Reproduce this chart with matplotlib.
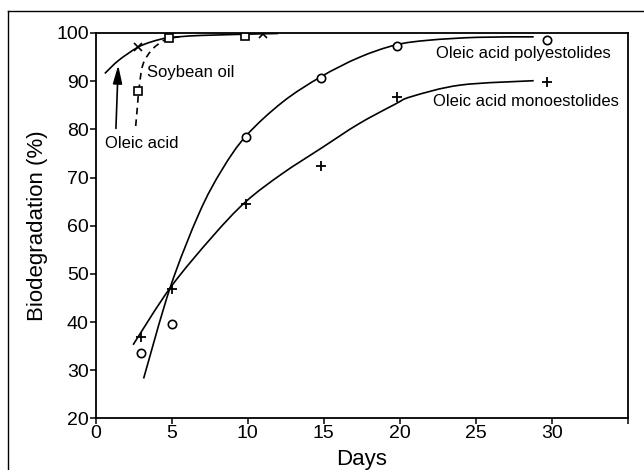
import numpy as np
import matplotlib
matplotlib.use('Agg')
import matplotlib.pyplot as plt
from matplotlib.lines import Line2D
from matplotlib.path import Path
from matplotlib.patches import PathPatch

plt.rcParams['font.family'] = ['Liberation Sans', 'DejaVu Sans']

# 数据点
oleic_days = [2.75, 4.8, 9.8, 11]
oleic_vals = [97.0, 99.3, 99.8, 99.7]
soy_days = [2.8, 4.8, 9.8]
soy_vals = [88.0, 99.0, 99.3]
est_days = [3, 5, 9.9, 14.8, 19.8, 29.7]
poly_vals = [33.5, 39.6, 78.4, 90.7, 97.4, 98.5]
mono_vals = [37.0, 46.8, 64.6, 72.5, 86.7, 89.8]

# 拟合曲线
oleic_fit_x = [0.6, 1.5, 2.75, 3.7, 4.8, 7.0, 12.0]
oleic_fit_y = [91.6, 94.3, 97.0, 98.2, 99.0, 99.5, 99.9]
soy_fit_x = [2.63, 2.75, 2.85, 3.1, 3.66, 4.3, 4.75, 5.5]
soy_fit_y = [80.7, 85.0, 88.5, 93.4, 96.4, 98.1, 98.8, 99.2]
poly_fit_x = [3.15, 4.9, 6.8, 8.3, 9.9, 12.3, 14.8, 17.3, 19.7, 21.9, 25.1, 28.8]
poly_fit_y = [28.3, 47.2, 62.6, 71.6, 78.7, 85.7, 90.9, 94.9, 97.5, 98.5, 99.1, 99.2]
mono_fit_x = [2.46, 4.92, 7.69, 9.87, 12.26, 14.88, 17.27, 19.67, 20.76, 24.0, 28.8]
mono_fit_y = [35.3, 47.2, 57.8, 65.0, 70.8, 76.2, 81.1, 85.2, 86.8, 89.2, 90.1]

x_ticks = [0, 5, 10, 15, 20, 25, 30, 35]
x_tick_labels = ['0', '5', '10', '15', '20', '25', '30', '']
y_ticks = [20, 30, 40, 50, 60, 70, 80, 90, 100]


def smooth_curve(ax, xs, ys, **kw):
    """用贝塞尔曲线平滑连接读取的点 (Catmull-Rom)"""
    p = np.column_stack([xs, ys]).astype(float)
    pts = np.vstack([p[0], p, p[-1]])
    verts = [p[0]]
    codes = [Path.MOVETO]
    for i in range(1, len(pts) - 2):
        c1 = pts[i] + (pts[i + 1] - pts[i - 1]) / 6
        c2 = pts[i + 1] - (pts[i + 2] - pts[i]) / 6
        verts += [c1, c2, pts[i + 1]]
        codes += [Path.CURVE4] * 3
    patch = PathPatch(Path(verts, codes), fill=False, **kw)
    ax.add_patch(patch)


fig = plt.figure(figsize=(6.44, 4.70), dpi=100)
ax = fig.add_axes([0.1486, 0.1096, 0.8266, 0.8202])

lw = 1.2
smooth_curve(ax, oleic_fit_x, oleic_fit_y, color='black', lw=lw)
smooth_curve(ax, soy_fit_x, soy_fit_y, color='black', lw=lw, linestyle=(0, (4, 3)))
smooth_curve(ax, poly_fit_x, poly_fit_y, color='black', lw=lw)
smooth_curve(ax, mono_fit_x, mono_fit_y, color='black', lw=lw)

ax.plot(oleic_days, oleic_vals, 'x', color='black', ms=6, mew=1.2)
ax.plot(soy_days, soy_vals, 's', mfc='white', mec='black', ms=6, mew=1.2)
ax.plot(est_days, poly_vals, 'o', mfc='white', mec='black', ms=6, mew=1.2)
ax.plot(est_days, mono_vals, '+', color='black', ms=7, mew=1.3)

ax.annotate('', xy=(1.48, 93.3), xytext=(1.33, 80.2),
            arrowprops=dict(arrowstyle='-|>,head_length=1.1,head_width=0.28',
                            color='black', lw=1.2, mutation_scale=10,
                            shrinkA=0, shrinkB=0))

fs_ann = 12
ax.text(0.6, 77.1, 'Oleic acid', fontsize=fs_ann, ha='left', va='center')
ax.text(3.4, 91.9, 'Soybean oil', fontsize=fs_ann, ha='left', va='center')
ax.text(22.4, 95.8, 'Oleic acid polyestolides', fontsize=fs_ann, ha='left', va='center')
ax.text(22.2, 85.8, 'Oleic acid monoestolides', fontsize=fs_ann, ha='left', va='center')

ax.set_xlim(0, 35)
ax.set_ylim(20, 100)
ax.set_xticks(x_ticks)
ax.set_xticklabels(x_tick_labels)
ax.set_yticks(y_ticks)
ax.tick_params(direction='out', length=4, width=1.1, labelsize=14, pad=1, colors='black')
for s in ax.spines.values():
    s.set_linewidth(1.3)

ax.set_xlabel('Days', fontsize=16, labelpad=5)
ax.set_ylabel('Biodegradation (%)', fontsize=16, labelpad=6)

# 外框
fig.add_artist(Line2D([8/644, 8/644], [0, 1 - 11/470], color='black', lw=1.0, transform=fig.transFigure))
fig.add_artist(Line2D([8/644, 1], [1 - 11/470, 1 - 11/470], color='black', lw=1.0, transform=fig.transFigure))

fig.savefig('out.png', dpi=100)
